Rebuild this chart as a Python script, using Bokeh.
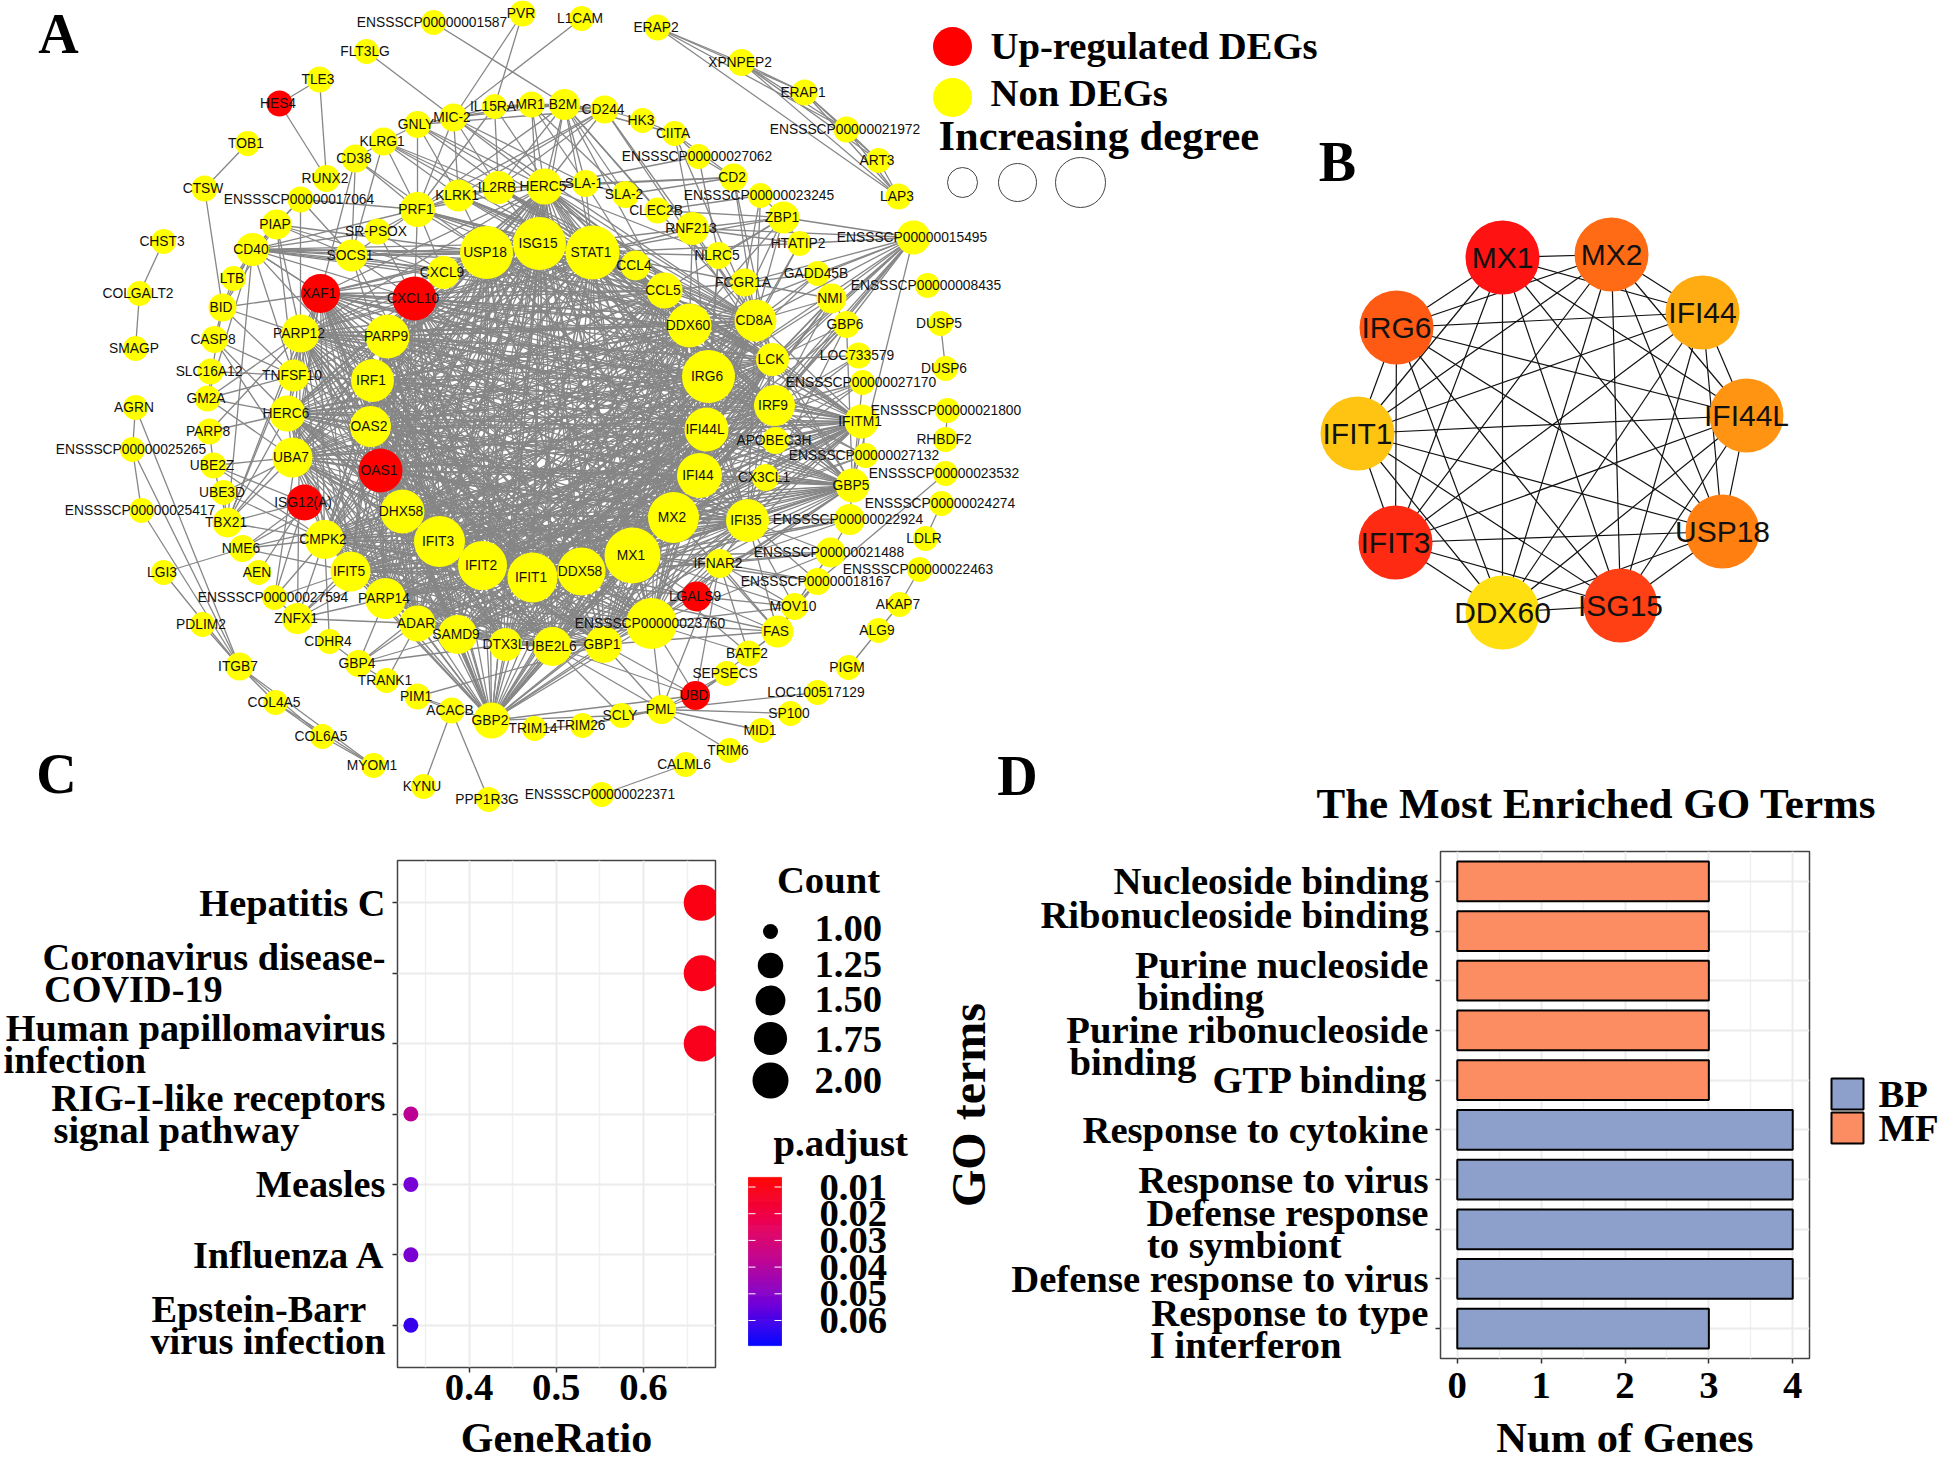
from itertools import combinations
import math
import numpy as np
from bokeh.plotting import figure
from bokeh.layouts import column, row
from bokeh.models import ColumnDataSource, Range1d, FixedTicker, LinearColorMapper
from bokeh.core.properties import value
from bokeh.embed import file_html
from bokeh.resources import INLINE

# ---------------- Panel A: network ----------------
node_names = [
 "ENSSSCP00000001587","PVR","FLT3LG","TLE3","HES4","TOB1","CTSW","RUNX2","CD38","KLRG1",
 "GNLY","MIC-2","IL15RA","ENSSSCP00000017064","PIAP","CD40","SR-PSOX","SOCS1","PRF1","KLRK1",
 "IL2RB","USP18","CXCL9","CXCL10","XAF1","LTB","BID","CHST3","COLGALT2","SMAGP",
 "CASP8","SLC16A12","TNFSF10","PARP12","PARP9","IRF1","GM2A","L1CAM","ERAP2","XPNPEP2",
 "ERAP1","ENSSSCP00000021972","ART3","LAP3","MR1","B2M","CD244","HK3","CIITA","ENSSSCP00000027062",
 "CD2","ENSSSCP00000023245","ZBP1","HERC5","SLA-1","SLA-2","CLEC2B","RNF213","HTATIP2","ENSSSCP00000015495",
 "ISG15","STAT1","CCL4","NLRC5","GADD45B","ENSSSCP00000008435","FCGR1A","NMI","CCL5","DDX60",
 "CD8A","GBP6","DUSP5","DUSP6","LOC733579","LCK","ENSSSCP00000027170","IRG6","IRF9","ENSSSCP00000021800",
 "IFITM1","RHBDF2","IFI44L","APOBEC3H","ENSSSCP00000027132","ENSSSCP00000023532","CX3CL1","GBP5","IFI44","ENSSSCP00000024274",
 "ENSSSCP00000022924","IFI35","MX2","LDLR","ENSSSCP00000021488","IFNAR2","MX1","DDX58","IFIT1","ENSSSCP00000022463",
 "ENSSSCP00000018167","LGALS9","MOV10","AKAP7","ENSSSCP00000023760","FAS","ALG9","GBP1","UBE2L6","BATF2",
 "SEPSECS","PIGM","UBD","LOC100517129","PML","SP100","SCLY","MID1","TRIM26","TRIM14",
 "TRIM6","CALML6","ENSSSCP00000022371","AGRN","HERC6","OAS2","PARP8","ENSSSCP00000025265","UBA7","UBE2Z",
 "OAS1","UBE3D","ISG12(A)","ENSSSCP00000025417","DHX58","TBX21","CMPK2","IFIT3","NME6","IFIT2",
 "LGI3","AEN","IFIT5","ENSSSCP00000027594","PARP14","PDLIM2","ZNFX1","ADAR","SAMD9","CDHR4",
 "DTX3L","GBP4","ITGB7","TRANK1","COL4A5","PIM1","ACACB","GBP2","COL6A5","MYOM1",
 "KYNU","PPP1R3G"]
node_x = [
 433,522,366,319,279,247,204,326,355,383,
 417,453,494,300,276,252,377,351,417,458,
 498,486,443,414,320,233,222,163,139,135,
 214,210,293,300,387,372,207,581,657,741,
 804,846,878,898,531,564,604,642,674,698,
 733,760,783,544,585,625,657,692,799,913,
 539,592,635,718,817,927,744,831,664,689,
 755,846,940,945,858,772,862,708,774,947,
 861,945,706,775,865,945,765,852,699,941,
 849,747,673,925,830,719,632,581,532,919,
 817,696,794,899,651,777,878,603,552,748,
 726,848,695,817,661,790,621,761,582,534,
 729,685,601,135,287,370,209,132,292,213,
 380,223,304,141,402,227,324,439,242,482,
 163,258,350,274,385,202,297,417,457,329,
 505,358,239,386,275,417,451,491,322,373,
 423,488]
node_y = [
 22,13,51,79,103,143,188,178,158,141,
 124,117,106,199,224,249,231,255,209,195,
 187,252,272,298,293,278,307,241,293,348,
 339,371,375,333,336,380,398,18,27,62,
 92,129,160,196,104,104,109,120,133,156,
 177,195,217,186,183,194,210,228,243,237,
 243,252,265,255,273,285,282,298,290,325,
 320,324,323,368,355,359,382,376,405,410,
 421,439,429,440,455,473,477,485,475,503,
 519,520,517,538,552,563,555,571,577,569,
 581,596,606,604,623,631,630,644,646,653,
 673,667,695,692,709,713,715,730,725,728,
 750,764,794,407,413,426,431,449,457,465,
 470,492,502,510,511,522,539,541,548,565,
 572,572,571,597,598,624,618,623,634,641,
 644,663,666,680,702,696,710,720,736,765,
 786,799]
node_degree = [
 2,4,2,4,4,2,4,6,8,8,
 6,8,2,4,12,18,4,16,22,16,
 18,58,18,40,30,2,8,2,2,2,
 6,4,16,28,40,38,4,2,4,6,
 4,4,2,4,4,14,8,2,2,2,
 8,2,16,24,6,6,4,18,2,20,
 58,60,12,6,2,2,8,12,24,40,
 36,6,2,2,4,18,2,58,34,2,
 20,2,40,6,2,2,6,20,42,2,
 14,38,54,2,12,10,64,48,52,2,
 6,12,6,2,54,16,2,26,30,4,
 2,2,10,2,10,2,2,2,2,2,
 2,2,2,2,24,34,4,2,32,4,
 40,2,24,2,40,12,30,54,6,50,
 2,2,32,2,34,2,14,24,30,2,
 18,6,8,2,2,4,4,24,2,2,
 2,2]
upregulated = ["HES4","XAF1","CXCL10","OAS1","ISG12(A)","LGALS9","UBD"]

core_genes = ("USP18 ISG15 STAT1 CCL5 DDX60 IRG6 IFI44L IFI44 MX2 MX1 DDX58 IFIT1 IFIT2 IFIT3 DHX58 OAS1 OAS2 IRF1 "
              "PARP9 XAF1 CXCL10 IRF9 IFI35 E23760 UBA7 HERC6 CMPK2 PARP14 PARP12 ADAR SAMD9 DTX3L UBE2L6 GBP1 HERC5 "
              "IFIT5 CD8A LCK GBP5 IFITM1 GBP2").split()
links = {
 "E01587":"B2M","PVR":"MIC-2 IL15RA","L1CAM":"MIC-2","FLT3LG":"MIC-2","TLE3":"HES4 RUNX2","HES4":"RUNX2",
 "TOB1":"CTSW","CTSW":"BID","CHST3":"COLGALT2","COLGALT2":"SMAGP",
 "ERAP2":"XPNPEP2 ERAP1 E21972 LAP3","XPNPEP2":"ERAP1 E21972 ART3 LAP3","ERAP1":"E21972 ART3 LAP3",
 "E21972":"ART3 LAP3","ART3":"LAP3","DUSP5":"DUSP6","E21800":"RHBDF2",
 "AGRN":"E25265 ITGB7","E25265":"E25417 ITGB7","E25417":"ITGB7","LGI3":"ITGB7 NME6","PDLIM2":"ITGB7",
 "ITGB7":"COL4A5 COL6A5 MYOM1","COL4A5":"COL6A5 MYOM1","COL6A5":"MYOM1",
 "ACACB":"KYNU PPP1R3G PIM1","PIM1":"GBP1","CALML6":"E22371",
 "PML":"TRIM6 MID1 SP100 LOC100517129 UBD SCLY TRIM26 SEPSECS E23760 IFNAR2 GBP1 UBE2L6",
 "SCLY":"UBE2L6","TRIM14":"TRIM26","PIGM":"ALG9","AKAP7":"ALG9 E22463","LDLR":"E24274","E23532":"E18167",
 "CD40":"SOCS1 USP18 ISG15 STAT1 CXCL9 CXCL10 XAF1 PARP9 CCL4 CCL5 IRF1 BID LTB PIAP TNFSF10 CD8A PRF1 E17064",
 "E17064":"PIAP SOCS1 PARP12 PRF1","PIAP":"LTB BID USP18 CXCL9 TNFSF10 PARP12 SOCS1",
 "LTB":"BID","BID":"CASP8 PARP12 TNFSF10 GM2A XAF1","CASP8":"TNFSF10 HERC6 UBA7",
 "GM2A":"PARP12 HERC6 UBA7 TNFSF10 CD40","PARP8":"PARP12 HERC6 UBE2Z",
 "SLC16A12":"TNFSF10","UBE2Z":"UBA7 ISG12(A) TBX21 CMPK2","UBE3D":"TBX21 UBA7 CMPK2",
 "TBX21":"UBA7 HERC6 ISG12(A) CD40 PARP12 CMPK2 XAF1 CXCL10","NME6":"CMPK2 IFIT5 ISG12(A) DHX58 OAS1",
 "AEN":"ISG12(A)","E27594":"CMPK2 ZNFX1 ISG12(A) XAF1 IFIT5","ZNFX1":"PARP14 ADAR IFIT3 DHX58 IFIT5 PARP12 CMPK2",
 "CDHR4":"CMPK2 GBP4","GBP4":"PARP14 ADAR SAMD9 DTX3L IFIT2 TRANK1","TRANK1":"ADAR",
 "CD38":"KLRG1 PRF1 SOCS1 USP18 XAF1","KLRG1":"PRF1 IL2RB KLRK1 SOCS1 CD8A LCK GNLY","GNLY":"PRF1 KLRK1 CD8A CD244 HERC5 STAT1 MIC-2",
 "MIC-2":"KLRK1 PRF1 IL2RB B2M MR1 IL15RA SLA-1 CD8A LCK","IL15RA":"IL2RB MR1 B2M PRF1 STAT1",
 "MR1":"B2M CD244 HERC5 ISG15 SLA-1 SLA-2","B2M":"CD244 HERC5 ISG15 STAT1 CCL5 SLA-1 SLA-2 CD8A CLEC2B CIITA IL2RB PRF1",
 "CD244":"HK3 CD8A LCK PRF1 KLRK1 IL2RB HERC5","HK3":"CIITA","CIITA":"E27062 CD2 RNF213 CD8A",
 "E27062":"CD2 HERC5 NLRC5","CD2":"HERC5 SLA-1 SLA-2 CD8A LCK","E23245":"ZBP1 CD8A FCGR1A CLEC2B",
 "SLA-1":"HERC5 SLA-2 IRG6 STAT1","ZBP1":"RNF213 HTATIP2 STAT1 NLRC5 CCL5 DDX60 IRG6 CLEC2B CD8A",
 "RNF213":"STAT1 IRG6 DDX60 CD8A USP18","NLRC5":"STAT1 IRG6 CD8A HERC5 IFI44L","HTATIP2":"E15495 CD8A STAT1 RNF213 MX1",
 "E15495":"ZBP1 RNF213 GADD45B NMI FCGR1A CD8A LCK IRG6 IRF9 IFIT1 GBP5 MX2 IFI44 GBP6 IFI44L DDX60",
 "GADD45B":"FCGR1A CD8A NMI IRG6","FCGR1A":"CD8A LCK NMI CCL5 IRG6 STAT1 DDX60","NMI":"CD8A LCK IRF9 IFI44 IFI44L MX1 IRG6 GBP6",
 "GBP6":"LCK IRF9 IFIT1 IFI35 GBP5 MX1","LOC733579":"IFI44 IRF9 LCK","E27170":"IRF9 IFI44 MX1 GBP5 IFIT3",
 "E27132":"IFITM1 IRF9 IRG6 MX2 IFI44L IFIT1","IFITM1":"IRF9 IFI44L IFI44 MX1 MX2 IFIT1 IFIT3 APOBEC3H IRG6 ISG15 GBP5",
 "APOBEC3H":"IRF9 IFI44L CX3CL1 MX1","CX3CL1":"IFI35 GBP5 IFI44 MX2 IFIT1",
 "GBP5":"IFI35 MX1 MX2 IFI44 IFI44L IRF9 E22924 IFIT3 IRF1","E22924":"IFI35 MX1 MX2 E21488 IFNAR2 DDX58",
 "E21488":"IFI35 IFNAR2 FAS MX1 MOV10 E23760 IFIT1","IFNAR2":"FAS MX1 MOV10 BATF2 LGALS9 E23760 UBD DDX58 IFI35",
 "E18167":"IFI35 FAS MOV10 IFNAR2 MX1","MOV10":"FAS E23760 MX1 IFI35 LGALS9","FAS":"LGALS9 E23760 BATF2 MX2 IFIT1 UBD GBP1 IFI35",
 "LGALS9":"MX1 E23760 DDX58 IFIT1","BATF2":"E23760 MX1","UBD":"GBP1 UBE2L6 E23760 SEPSECS GBP2",
 "GBP2":"SAMD9 DTX3L UBE2L6 GBP1 E23760 IFIT1 IFIT2 DDX58 MX1 IFIT3 PIM1 ADAR SCLY",
 "SOCS1":"USP18 PRF1 CXCL9 CXCL10 IFIT1 STAT1 ISG15 IFIT3","SR-PSOX":"CXCL9 PRF1 CD40 CXCL10",
 "PRF1":"KLRK1 IL2RB CD8A LCK USP18 ISG15 STAT1 CCL5 CCL4 CXCL9 CXCL10 HERC5",
 "KLRK1":"IL2RB CD8A LCK USP18 ISG15 STAT1 CCL4 CCL5","IL2RB":"HERC5 ISG15 STAT1 CCL5 CD8A CCL4 LCK",
 "CCL4":"CCL5 CD8A STAT1 CXCL9 CXCL10","CXCL9":"CXCL10 STAT1 USP18 ISG15 IRF1 CD8A",
 "TNFSF10":"PARP12 XAF1 IRF1 HERC6 OAS1 MX1 STAT1 CXCL10",
}

# ---------------- Panel B: hub genes ----------------
hub_names = ["MX1","MX2","IFI44","IFI44L","USP18","ISG15","DDX60","IFIT3","IFIT1","IRG6"]
hub_x = [1502,1611,1702,1746,1722,1620,1502,1395,1357,1396]
hub_y = [257,254,312,415,531,605,612,542,433,327]
hub_colors = ["#FF1212","#FF6A14","#FFAB12","#FF9412","#FF7F10","#FF3F14","#FFDF10","#FF2A12","#FFC412","#FF5A14"]

# ---------------- Panel C: KEGG dot plot ----------------
NB = "\u00a0"
pathways = ["Hepatitis C","Coronavirus disease-\nCOVID-19" + NB * 17,"Human papillomavirus\ninfection" + NB * 25,
            "RIG-I-like receptors\nsignal pathway" + NB * 9,"Measles","Influenza A","Epstein-Barr" + NB * 2 + "\nvirus infection"]
gene_ratio = [0.6667,0.6667,0.6667,0.3333,0.3333,0.3333,0.3333]
path_count = [2,2,2,1,1,1,1]
p_adjust = [0.0100,0.0115,0.0120,0.0380,0.0530,0.0520,0.0620]
count_keys = [1.00,1.25,1.50,1.75,2.00]
padj_ticks = [0.01,0.02,0.03,0.04,0.05,0.06]

# ---------------- Panel D: GO terms ----------------
go_terms = ["Nucleoside binding","Ribonucleoside binding\n" + NB,"Purine nucleoside\nbinding" + NB * 17,
            NB + "\nPurine ribonucleoside\nbinding" + NB * 24,"GTP binding","Response to cytokine","Response to virus",
            "Defense response\nto symbiont" + NB * 9,"Defense response to virus","Response to type\nI interferon" + NB * 9]
go_genes = [3,3,3,3,3,4,4,4,4,3]
go_class = ["MF","MF","MF","MF","MF","BP","BP","BP","BP","BP"]
class_names = ["BP","MF"]
class_colors = ["#8DA0CB","#FC8D62"]

SANS = "Liberation Sans"
SERIF = "Liberation Serif"


def canvas(width, height, xr, yr):
    f = figure(width=width, height=height, x_range=Range1d(*xr), y_range=Range1d(*yr),
               output_backend="svg", toolbar_location=None, min_border=0,
               x_axis_type=None, y_axis_type=None)
    f.grid.visible = False
    f.outline_line_color = None
    f.background_fill_color = None
    f.border_fill_color = None
    return f


def serif(f, x, y, txt, size, align="left"):
    f.text(x=[x], y=[y], text=[txt], text_font=value(SERIF), text_font_style="bold",
           text_font_size=size, text_align=align, text_baseline="middle", text_color="black")


# ---- A ----
pos = {n: (x, y) for n, x, y in zip(node_names, node_x, node_y)}
alias = {"E" + n[-5:]: n for n in node_names if n.startswith("ENSSSCP")}
full = lambda s: alias.get(s, s)
pairs = set()
for a, b in combinations(core_genes, 2):
    pairs.add(tuple(sorted((full(a), full(b)))))
for a, targets in links.items():
    for b in targets.split():
        pairs.add(tuple(sorted((full(a), full(b)))))
pairs = sorted(pairs)

pA = canvas(1330, 812, (0, 1330), (812, 0))
pA.multi_line(xs=[[pos[a][0], pos[b][0]] for a, b in pairs], ys=[[pos[a][1], pos[b][1]] for a, b in pairs],
              line_color="#868686", line_width=1.3)
pA.scatter(x=node_x, y=node_y, size=[24 + d / 2 for d in node_degree],
           fill_color=["#FF0000" if n in upregulated else "#FFFF00" for n in node_names], line_color=None)
pA.text(x=node_x, y=node_y, text=node_names, x_offset=-1.5, text_font=value(SANS), text_font_size="13.8px",
        text_align="center", text_baseline="middle", text_color="#111111")
pA.scatter(x=[952, 952], y=[46, 97], size=39, fill_color=["#FF0000", "#FFFF00"], line_color=None)
serif(pA, 990, 45, "Up-regulated DEGs", "38.7px")
serif(pA, 990, 92, "Non DEGs", "38.7px")
serif(pA, 938, 135, "Increasing degree", "42.5px")
pA.scatter(x=[962, 1017, 1080], y=[182, 182, 182], size=[30, 38, 50], fill_color=None, line_color="#444444", line_width=1)
serif(pA, 58, 33, "A", "56px", "center")
serif(pA, 56, 773, "C", "56px", "center")
serif(pA, 1017, 775, "D", "56px", "center")

# ---- B ----
pB = canvas(634, 700, (1310, 1944), (700, 0))
hub_pairs = list(combinations(range(len(hub_names)), 2))
pB.multi_line(xs=[[hub_x[i], hub_x[j]] for i, j in hub_pairs], ys=[[hub_y[i], hub_y[j]] for i, j in hub_pairs],
              line_color="#111111", line_width=1.2)
pB.scatter(x=hub_x, y=hub_y, size=74, fill_color=hub_colors, line_color=None)
pB.text(x=hub_x, y=hub_y, text=hub_names, text_font=value(SANS), text_font_size="30px",
        text_align="center", text_baseline="middle", text_color="#111111")
serif(pB, 1337, 161, "B", "56px", "center")
pB.margin = (0, 0, 0, -20)


def style_axes(f):
    for ax in (f.xaxis[0], f.yaxis[0]):
        ax.axis_line_color = None
        ax.major_tick_line_color = "#333333"
        ax.major_tick_line_width = 1.5
        ax.major_tick_in = 0
        ax.major_tick_out = 5
        ax.minor_tick_line_color = None
        ax.major_label_text_font = SERIF
        ax.major_label_text_font_style = "bold"
        ax.major_label_text_font_size = "38.7px"
        ax.major_label_text_color = "black"
        ax.major_label_text_line_height = 0.76
        ax.axis_label_text_font = SERIF
        ax.axis_label_text_font_style = "bold"
        ax.axis_label_text_color = "black"
    f.outline_line_color = "#444444"
    f.outline_line_width = 1.5
    f.xgrid.grid_line_color = "#EBEBEB"
    f.xgrid.grid_line_width = 2
    f.xgrid.minor_grid_line_color = "#F0F0F0"
    f.xgrid.minor_grid_line_width = 1.5
    f.ygrid.grid_line_color = "#EBEBEB"
    f.ygrid.grid_line_width = 2
    f.background_fill_color = None
    f.border_fill_color = None


# ---- colour scale for C ----
stops = ["#FF0000", "#EE0050", "#BD0093", "#7400D9", "#0000FF"]
rgb = np.array([[int(c[i:i + 2], 16) for i in (1, 3, 5)] for c in stops], float)
tt = np.linspace(0, 1, 256)
palette = ["#%02X%02X%02X" % tuple(int(round(np.interp(t, np.linspace(0, 1, 5), rgb[:, k]))) for k in range(3)) for t in tt]
PMIN, PMAX = 0.0064, 0.0694
mapper = LinearColorMapper(palette=palette, low=PMIN, high=PMAX)
dot_size = lambda c: 15 + 21 * math.sqrt(c - 1)

# ---- C ----
pC = figure(width=720, height=657, x_range=Range1d(0.318, 0.6825), y_range=Range1d(7.6, 0.4),
            output_backend="svg", toolbar_location=None,
            min_border_left=397, min_border_right=5, min_border_top=48, min_border_bottom=102)
style_axes(pC)
ypos = list(range(1, len(pathways) + 1))
srcC = ColumnDataSource(dict(x=gene_ratio, y=ypos, padj=p_adjust, s=[dot_size(c) for c in path_count]))
pC.scatter("x", "y", size="s", source=srcC, line_color=None, fill_color={"field": "padj", "transform": mapper})
pC.xaxis[0].ticker = FixedTicker(ticks=[0.4, 0.5, 0.6], minor_ticks=[0.35, 0.45, 0.55, 0.65])
pC.yaxis[0].ticker = FixedTicker(ticks=ypos)
pC.yaxis[0].major_label_overrides = dict(zip(ypos, pathways))
pC.yaxis[0].major_label_standoff = 7
pC.yaxis[0].major_label_text_font_size = "38.3px"
pC.xaxis[0].axis_label = "GeneRatio"
pC.xaxis[0].axis_label_text_font_size = "42px"
pC.xaxis[0].major_label_standoff = 2
pC.xaxis[0].axis_label_standoff = 12
pC.margin = (0, 0, -8, 0)

# ---- C legends ----
pL = canvas(200, 649, (720, 920), (1461, 812))
pL.extra_y_ranges = {"padj": Range1d(0.01 + (1461 - 1186.5) / 2670, 0.01 + (812 - 1186.5) / 2670)}
serif(pL, 828, 879, "Count", "38.7px", "center")
key_y = [931, 965, 1000, 1038, 1080]
key_lab_y = [928, 964, 999, 1039, 1080]
pL.scatter(x=[770] * 5, y=key_y, size=[dot_size(c) for c in count_keys], fill_color="black", line_color=None)
pL.text(x=[814] * 5, y=key_lab_y, text=["%.2f" % c for c in count_keys], text_font=value(SERIF), text_font_style="bold",
        text_font_size="38.7px", text_baseline="middle", text_color="black")
serif(pL, 773, 1142, "p.adjust", "38.7px")
edges = np.linspace(PMIN, PMAX, 171)
mids = (edges[:-1] + edges[1:]) / 2
bar_cols = [palette[int((m - PMIN) / (PMAX - PMIN) * 255)] for m in mids]
pL.quad(left=748, right=781, top=edges[:-1], bottom=edges[1:], y_range_name="padj", line_color=bar_cols, line_width=0.7,
        fill_color=bar_cols)
pL.segment(x0=[748] * 6, x1=[755] * 6, y0=padj_ticks, y1=padj_ticks, y_range_name="padj", line_color="white", line_width=1)
pL.segment(x0=[774] * 6, x1=[781] * 6, y0=padj_ticks, y1=padj_ticks, y_range_name="padj", line_color="white", line_width=1)
pL.text(x=[819] * 6, y=padj_ticks, text=["%.2f" % t for t in padj_ticks], y_range_name="padj", text_font=value(SERIF),
        text_font_style="bold", text_font_size="38.7px", text_baseline="middle", text_color="black")

# ---- D ----
pD = figure(width=1024, height=710, x_range=Range1d(-0.2, 4.2), y_range=Range1d(10.6, 0.4),
            output_backend="svg", toolbar_location=None, title="The Most Enriched GO Terms",
            min_border_left=520, min_border_right=135, min_border_top=95, min_border_bottom=108)
style_axes(pD)
ygo = list(range(1, len(go_terms) + 1))
for cls, col in zip(class_names, class_colors):
    idx = [i for i, c in enumerate(go_class) if c == cls]
    pD.hbar(y=[ygo[i] for i in idx], right=[go_genes[i] for i in idx], left=0, height=0.8,
            fill_color=col, line_color="black", line_width=2)
pD.xaxis[0].ticker = FixedTicker(ticks=[0, 1, 2, 3, 4], minor_ticks=[0.5, 1.5, 2.5, 3.5])
pD.yaxis[0].ticker = FixedTicker(ticks=ygo)
pD.yaxis[0].major_label_overrides = dict(zip(ygo, go_terms))
pD.yaxis[0].major_label_standoff = 7
pD.xaxis[0].axis_label = "Num of Genes"
pD.xaxis[0].axis_label_text_font_size = "42.5px"
pD.xaxis[0].major_label_standoff = 9
pD.xaxis[0].axis_label_standoff = 13
pD.yaxis[0].axis_label = "GO terms"
pD.yaxis[0].axis_label_text_font_size = "48px"
pD.yaxis[0].axis_label_standoff = 13
pD.title.text_font = SERIF
pD.title.text_font_style = "bold"
pD.title.text_font_size = "43px"
pD.title.text_color = "black"
pD.title.align = "left"
pD.title.vertical_align = "top"
pD.title.offset = -124
pD.title.standoff = 45
pD.margin = (0, 0, -5, 0)

# ---- D legend ----
pK = canvas(129, 685, (1815, 1944), (1461, 776))
pK.quad(left=[1831, 1831], right=[1863, 1863], top=[1078, 1112], bottom=[1109, 1143],
        fill_color=class_colors, line_color="black", line_width=2)
pK.text(x=[1878, 1878], y=[1093, 1127], text=class_names, text_font=value(SERIF), text_font_style="bold",
        text_font_size="38.7px", text_baseline="middle", text_color="black")

page = column(row(pA, pB, spacing=0),
              row(column(pC), column(pL),
                  column(pD, margin=(-56, 0, 0, 0)),
                  column(pK, margin=(-36, 0, 0, -129)), spacing=0), spacing=0,
              styles={"overflow": "hidden"})
open("out.html", "w").write(file_html(page, INLINE))
